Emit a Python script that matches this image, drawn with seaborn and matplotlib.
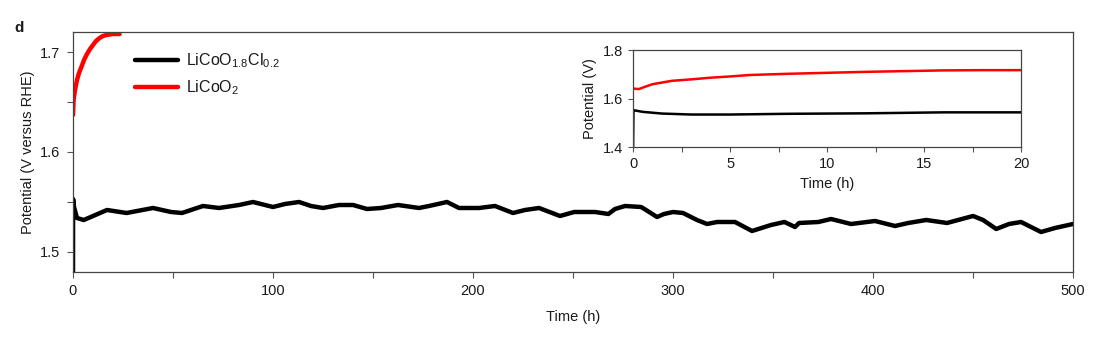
import numpy as np
import pandas as pd
import matplotlib
matplotlib.use("Agg")
import matplotlib.pyplot as plt
import seaborn as sns

# ---- data ----
cl_time = [0, 0.05, 0.5, 2, 5.4, 17, 26.8, 40, 49, 54.5, 65, 73, 83, 90, 100, 106, 113, 119, 125,
           133, 140, 147, 154, 162.5, 173, 178, 187, 193, 203, 211, 220, 226, 233, 243.5, 250.6,
           261, 267.7, 271, 276, 284, 286.5, 292, 295.5, 300, 305, 312, 317, 322, 331, 339.5, 349,
           355.7, 361, 363, 372.7, 379, 389, 401, 411, 417.6, 426.6, 437, 450, 455, 461.6, 468,
           474, 484, 491, 500]
cl_pot = [1.46, 1.553, 1.545, 1.534, 1.532, 1.542, 1.539, 1.544, 1.540, 1.539, 1.546, 1.544,
          1.547, 1.550, 1.545, 1.548, 1.550, 1.546, 1.544, 1.547, 1.547, 1.543, 1.544, 1.547,
          1.544, 1.546, 1.550, 1.544, 1.544, 1.546, 1.539, 1.542, 1.544, 1.536, 1.540, 1.540,
          1.538, 1.543, 1.546, 1.545, 1.542, 1.535, 1.538, 1.540, 1.539, 1.532, 1.528, 1.530,
          1.530, 1.521, 1.527, 1.530, 1.525, 1.529, 1.530, 1.533, 1.528, 1.531, 1.526, 1.529,
          1.532, 1.529, 1.536, 1.532, 1.523, 1.528, 1.530, 1.520, 1.524, 1.528]

lco_time = [0, 0.3, 1, 2, 3, 4.2, 5.5, 7, 8.5, 10, 11.5, 13.3, 15, 16.7, 20, 23.3]
lco_pot = [1.637, 1.652, 1.662, 1.672, 1.679, 1.685, 1.692, 1.698, 1.703, 1.707, 1.711, 1.714,
           1.716, 1.717, 1.718, 1.718]

inset_time = [0, 0.3, 0.6, 1, 2, 3, 4, 5, 6, 8, 10, 12, 14, 16, 18, 20]
inset_lco = [1.641, 1.639, 1.648, 1.659, 1.673, 1.679, 1.686, 1.691, 1.697, 1.702, 1.706, 1.710,
             1.713, 1.716, 1.717, 1.717]
inset_cl_time = [0, 0.02, 0.5, 1.5, 3, 5, 8, 12, 16, 20]
inset_cl = [1.40, 1.552, 1.545, 1.538, 1.534, 1.534, 1.537, 1.539, 1.543, 1.543]

labels = ["LiCoO$_{1.8}$Cl$_{0.2}$", "LiCoO$_2$"]
colors = ["#000000", "#ff0000"]

main_xticks = [0, 100, 200, 300, 400, 500]
main_yticks = [1.5, 1.6, 1.7]
inset_xticks = [0, 5, 10, 15, 20]
inset_yticks = [1.4, 1.6, 1.8]

# ---- style ----
sns.set_style("ticks")
plt.rcParams['font.family'] = ['Liberation Sans', 'DejaVu Sans']
plt.rcParams['mathtext.fontset'] = 'custom'
plt.rcParams['mathtext.rm'] = 'Liberation Sans'
plt.rcParams['mathtext.it'] = 'Liberation Sans'
plt.rcParams['text.color'] = '#1a1a1a'
plt.rcParams['axes.labelcolor'] = '#1a1a1a'
plt.rcParams['xtick.labelcolor'] = '#1a1a1a'
plt.rcParams['ytick.labelcolor'] = '#1a1a1a'

df_main = pd.concat([
    pd.DataFrame({"Time": cl_time, "Potential": cl_pot, "Sample": labels[0]}),
    pd.DataFrame({"Time": lco_time, "Potential": lco_pot, "Sample": labels[1]}),
], ignore_index=True)
df_inset = pd.concat([
    pd.DataFrame({"Time": inset_cl_time, "Potential": inset_cl, "Sample": labels[0]}),
    pd.DataFrame({"Time": inset_time, "Potential": inset_lco, "Sample": labels[1]}),
], ignore_index=True)

fig = plt.figure(figsize=(11.01, 3.38), dpi=100)
ax = fig.add_axes([0.0663, 0.1953, 0.9083, 0.71])
sns.lineplot(data=df_main, x="Time", y="Potential", hue="Sample", palette=colors,
             estimator=None, sort=False, linewidth=3.2, ax=ax)
ax.set_xlim(0, 500)
ax.set_ylim(1.48, 1.72)
ax.set_xticks(main_xticks)
ax.set_xticks(np.arange(50, 500, 100), minor=True)
ax.set_yticks(main_yticks)
ax.set_yticks([1.55, 1.65], minor=True)
ax.tick_params(axis="both", which="both", direction="out", length=4, width=0.8,
               color="#555555", labelsize=10.5, pad=5)
for s in ax.spines.values():
    s.set_color("#444444")
    s.set_linewidth(0.9)
ax.set_xlabel("Time (h)", fontsize=10.5, labelpad=8)
ax.set_ylabel("Potential (V versus RHE)", fontsize=10.5, labelpad=4)
leg = ax.legend(loc="upper left", bbox_to_anchor=(0.048, 0.98), frameon=False,
                fontsize=11.5, handlelength=2.7, handletextpad=0.45, labelspacing=0.55)
for line in leg.get_lines():
    line.set_linewidth(3.2)

fig.text(0.013, 0.905, "d", fontsize=11, fontweight="bold")

ins = fig.add_axes([0.575, 0.565, 0.3524, 0.287])
ins.set_facecolor("white")
sns.lineplot(data=df_inset, x="Time", y="Potential", hue="Sample", palette=colors,
             estimator=None, sort=False, linewidth=1.8, ax=ins, legend=False)
ins.set_xlim(0, 20)
ins.set_ylim(1.4, 1.8)
ins.set_xticks(inset_xticks)
ins.set_xticks(np.arange(2.5, 20, 5), minor=True)
ins.set_yticks(inset_yticks)
ins.tick_params(axis="both", which="both", direction="out", length=3.5, width=0.8,
                color="#555555", labelsize=10.5, pad=4)
for s in ins.spines.values():
    s.set_color("#444444")
    s.set_linewidth(0.9)
ins.set_xlabel("Time (h)", fontsize=10.5, labelpad=4)
ins.set_ylabel("Potential (V)", fontsize=10.5, labelpad=4)

fig.savefig("out.png", dpi=100)
